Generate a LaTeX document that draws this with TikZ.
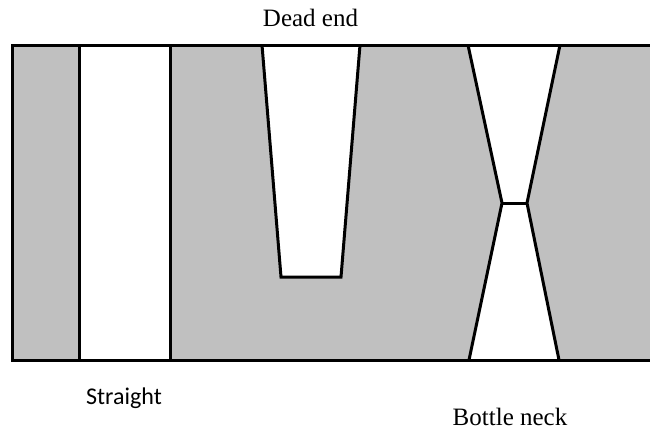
\documentclass[tikz,border=0pt]{standalone}
\usepackage{fontspec}
\setmainfont{Liberation Serif}
\newfontfamily\calib{Carlito}
\definecolor{chgray}{RGB}{192,192,192}
\tikzset{
  wall/.style={line width=3pt, line join=miter},
  lbl/.style={inner sep=0pt, anchor=base},
}
\begin{document}
\begin{tikzpicture}[x=1pt,y=-1pt]
\useasboundingbox (0,0) rectangle (650,432);
% gray body
\fill[chgray] (12,45) rectangle (652,360);
% straight channel
\fill[white] (79,45) rectangle (170,360);
% dead end
\fill[white] (262,45) -- (281,277) -- (341,277) -- (360,45) -- cycle;
% bottle neck
\fill[white] (468,45) -- (502,203) -- (527,203) -- (560,45) -- cycle;
\fill[white] (469,360) -- (502,203) -- (527,203) -- (559,360) -- cycle;
% outlines
\draw[wall] (652,45) -- (12,45) -- (12,360) -- (652,360);
\draw[wall] (79,45) -- (79,360);
\draw[wall] (170,45) -- (170,360);
\draw[wall] (262,45) -- (281,277) -- (341,277) -- (360,45);
\draw[wall] (468,45) -- (502,203) -- (469,360);
\draw[wall] (560,45) -- (527,203) -- (559,360);
\draw[wall] (502,203) -- (527,203);
% labels
\node[lbl, font=\fontsize{25}{30}\selectfont] (dead) at (310.5,26) {Dead end};
\node[lbl, font=\calib\fontsize{24}{29}\selectfont] (straight) at (124,404) {Straight};
\node[lbl, font=\fontsize{25}{30}\selectfont] (bottle) at (510,425) {Bottle neck};
\end{tikzpicture}
\end{document}
